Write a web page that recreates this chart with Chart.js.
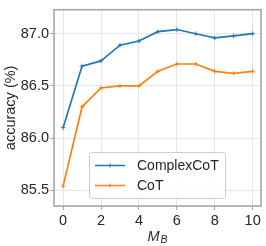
<!DOCTYPE html>
<html>
<head>
<meta charset="utf-8">
<script src="https://cdn.jsdelivr.net/npm/chart.js@4"></script>
<style>
  html, body { margin: 0; padding: 0; background: #fff; }
  #wrap { width: 266px; height: 246px; }
</style>
</head>
<body>
<div id="wrap"><canvas id="chart" width="266" height="246"></canvas></div>
<script>
// values
const M_B = [0, 1, 2, 3, 4, 5, 6, 7, 8, 9, 10];
const complexCoT = [86.10, 86.69, 86.74, 86.89, 86.93, 87.02, 87.04, 87.00, 86.96, 86.98, 87.00];
const coT = [85.54, 86.30, 86.48, 86.50, 86.50, 86.64, 86.71, 86.71, 86.64, 86.62, 86.64];
const seriesNames = ['ComplexCoT', 'CoT'];
const xTicks = [0, 2, 4, 6, 8, 10];
const yTicks = [85.5, 86.0, 86.5, 87.0];

const BLUE = '#1f77b4';
const ORANGE = '#ff7f0e';
const FONT = '"Liberation Sans", Arial, sans-serif';
const TEXT = '#262626';
const SPINE = '#a6a6a6';
const GRID = '#e6e6e6';

function toPoints(vals) {
    return vals.map((v, i) => ({x: M_B[i], y: v}));
}

// spines on all four sides, legend box and the M_B axis title
const extras = {
    id: 'extras',
    afterDraw(chart) {
        const ctx = chart.ctx;
        const a = chart.chartArea;
        ctx.save();
        ctx.strokeStyle = SPINE;
        ctx.lineWidth = 1.6;
        ctx.strokeRect(a.left, a.top, a.right - a.left, a.bottom - a.top);

        // legend
        let bx = 89.5, by = 152.5, bw = 136, bh = 46, r = 3;
        ctx.fillStyle = 'rgba(255,255,255,0.85)';
        ctx.strokeStyle = '#cccccc';
        ctx.lineWidth = 1;
        ctx.beginPath();
        ctx.roundRect(bx, by, bw, bh, r);
        ctx.fill();
        ctx.stroke();

        chart.data.datasets.forEach((ds, i) => {
            let y = 165.5 + i * 20;
            ctx.strokeStyle = ds.borderColor;
            ctx.lineWidth = 1.5;
            ctx.beginPath();
            ctx.moveTo(95, y);
            ctx.lineTo(125, y);
            ctx.stroke();
            ctx.lineWidth = 1;
            ctx.beginPath();
            ctx.moveTo(108, y); ctx.lineTo(112, y);
            ctx.moveTo(110, y - 2); ctx.lineTo(110, y + 2);
            ctx.stroke();
            ctx.fillStyle = TEXT;
            ctx.font = '14px ' + FONT;
            ctx.textBaseline = 'middle';
            ctx.textAlign = 'left';
            ctx.fillText(ds.label, 137, y + 0.5);
        });

        // x axis title: italic M with subscript B
        ctx.fillStyle = TEXT;
        ctx.textBaseline = 'alphabetic';
        ctx.textAlign = 'left';
        ctx.font = 'italic 14.5px ' + FONT;
        ctx.fillText('M', 147.5, 240.5);
        ctx.font = 'italic 10.5px ' + FONT;
        ctx.fillText('B', 160.5, 242.5);
        ctx.restore();
    }
};

const chart = new Chart(document.getElementById('chart'), {
    type: 'line',
    data: {
        datasets: [
            {
                label: seriesNames[0],
                data: toPoints(complexCoT),
                borderColor: BLUE,
                backgroundColor: BLUE,
                borderWidth: 1.7,
                pointStyle: 'cross',
                pointRadius: 2.2,
                pointBorderWidth: 1,
                tension: 0
            },
            {
                label: seriesNames[1],
                data: toPoints(coT),
                borderColor: ORANGE,
                backgroundColor: ORANGE,
                borderWidth: 1.7,
                pointStyle: 'cross',
                pointRadius: 2.2,
                pointBorderWidth: 1,
                tension: 0
            }
        ]
    },
    options: {
        responsive: false,
        animation: false,
        devicePixelRatio: 1,
        layout: {padding: {left: 0, right: 4, top: 3, bottom: 0}},
        plugins: {
            legend: {display: false},
            tooltip: {enabled: false}
        },
        scales: {
            x: {
                type: 'linear',
                min: -0.48,
                max: 10.44,
                afterBuildTicks: (s) => { s.ticks = xTicks.map(v => ({value: v})); },
                afterFit: (s) => { s.height = 40; },
                ticks: {
                    color: TEXT,
                    font: {family: FONT, size: 14.5},
                    padding: 2,
                    maxRotation: 0,
                    callback: (v) => String(v)
                },
                grid: {color: GRID, lineWidth: 1, tickLength: 4, tickColor: SPINE},
                border: {display: false}
            },
            y: {
                min: 85.35,
                max: 87.23,
                afterBuildTicks: (s) => { s.ticks = yTicks.map(v => ({value: v})); },
                afterFit: (s) => { s.width = 54; },
                ticks: {
                    color: TEXT,
                    font: {family: FONT, size: 14.5},
                    padding: 1,
                    callback: (v) => v.toFixed(1)
                },
                grid: {color: GRID, lineWidth: 1, tickLength: 4, tickColor: SPINE},
                border: {display: false},
                title: {
                    display: true,
                    text: 'accuracy (%)',
                    color: TEXT,
                    font: {family: FONT, size: 14.5},
                    padding: {top: 2, bottom: 0}
                }
            }
        }
    },
    plugins: [extras]
});
</script>
</body>
</html>
